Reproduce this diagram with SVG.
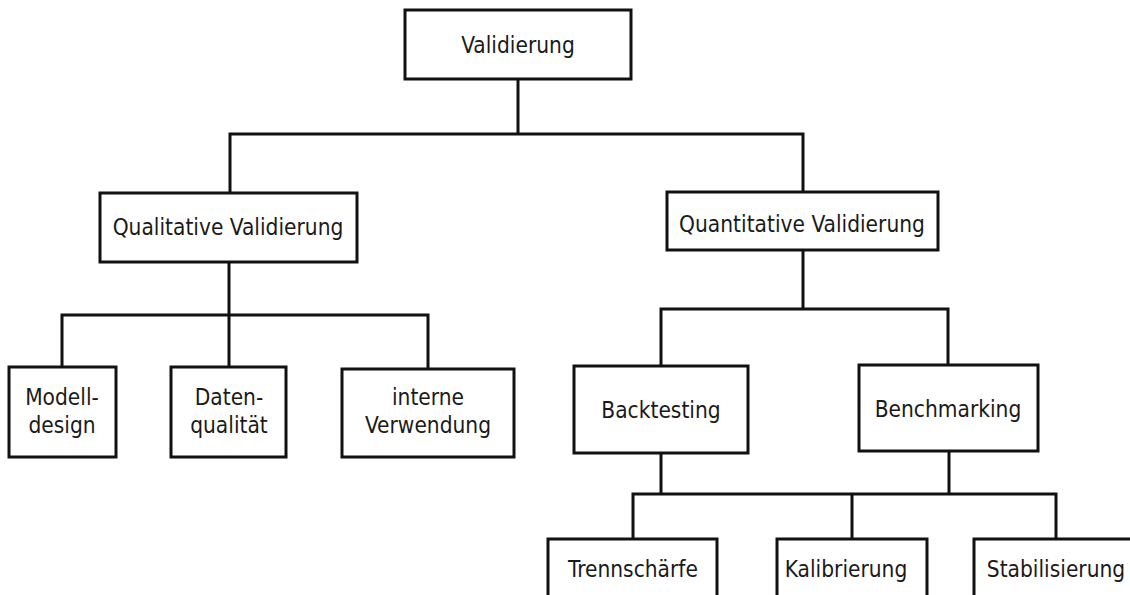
<svg xmlns="http://www.w3.org/2000/svg" width="1130" height="595" viewBox="0 0 1130 595">
<style>
.box{fill:#fff;stroke:#111;stroke-width:3}
.con{fill:none;stroke:#111;stroke-width:3;stroke-linejoin:miter;stroke-linecap:square}
text{font-family:"DejaVu Sans Condensed","DejaVu Sans",sans-serif;font-size:22.5px;fill:#1a1a1a;text-anchor:middle}
</style>
<rect width="1130" height="595" fill="#fff"/>
<g id="connectors">
<path class="con" d="M518 79 V134 M230 134 H803 M230 134 V193 M803 134 V192"/>
<path class="con" d="M229 262 V315 M62 315 H428 M62 315 V367 M229 315 V367 M428 315 V369"/>
<path class="con" d="M803 250 V309 M661 309 H948 M661 309 V366 M948 309 V365"/>
<path class="con" d="M661 453 V494 M949 451 V494 M633 494 H1056 M633 494 V539 M852 494 V539 M1056 494 V539"/>
</g>
<g id="validierung"><rect class="box" x="405" y="10" width="226" height="69"/><text x="518" y="53">Validierung</text></g>
<g id="qualitative"><rect class="box" x="100" y="193" width="257" height="69"/><text x="228" y="235">Qualitative Validierung</text></g>
<g id="quantitative"><rect class="box" x="667" y="192" width="271" height="58"/><text x="802" y="232">Quantitative Validierung</text></g>
<g id="modelldesign"><rect class="box" x="9" y="367" width="107" height="90"/><text x="62" y="405">Modell-</text><text x="62" y="433">design</text></g>
<g id="datenqualitaet"><rect class="box" x="171" y="367" width="115" height="90"/><text x="229" y="405">Daten-</text><text x="229" y="433">qualität</text></g>
<g id="interneverwendung"><rect class="box" x="342" y="369" width="172" height="88"/><text x="428" y="405">interne</text><text x="428" y="433">Verwendung</text></g>
<g id="backtesting"><rect class="box" x="574" y="366" width="174" height="87"/><text x="661" y="418">Backtesting</text></g>
<g id="benchmarking"><rect class="box" x="859" y="365" width="179" height="86"/><text x="948" y="417">Benchmarking</text></g>
<g id="trennschaerfe"><rect class="box" x="548" y="539" width="169" height="70"/><text x="633" y="577">Trennschärfe</text></g>
<g id="kalibrierung"><rect class="box" x="777" y="539" width="150" height="70"/><text x="846" y="577">Kalibrierung</text></g>
<g id="stabilisierung"><rect class="box" x="974" y="539" width="170" height="70"/><text x="1056" y="577">Stabilisierung</text></g>
</svg>
